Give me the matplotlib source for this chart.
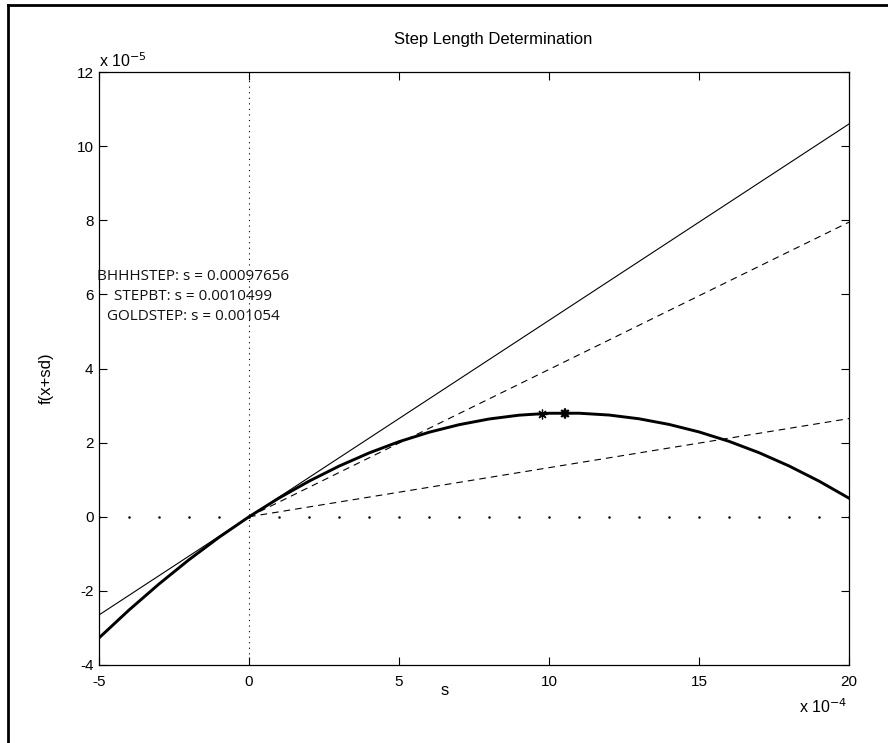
import numpy as np
import matplotlib
matplotlib.use("Agg")
import matplotlib.pyplot as plt
from matplotlib.lines import Line2D
from matplotlib.ticker import FuncFormatter, MultipleLocator

plt.rcParams['font.family'] = ['Liberation Sans', 'DejaVu Sans']

# step length s (units of 1e-4) and objective f(x+sd) (units of 1e-5)
s_grid = [-5, -4, -3, -2, -1, 0, 1, 2, 3, 4, 5, 6, 7, 8, 9, 10,
          11, 12, 13, 14, 15, 16, 17, 18, 19, 20]
f_vals = [-3.270, -2.517, -1.814, -1.159, -0.555, 0.0, 0.505, 0.960,
          1.366, 1.721, 2.026, 2.280, 2.484, 2.638, 2.741, 2.793,
          2.794, 2.745, 2.644, 2.492, 2.289, 2.035, 1.729, 1.371,
          0.962, 0.501]

# tangent line at s = 0 and the two slope-bound lines
tangent_s = [-5, 20]
tangent_f = [-2.65, 10.60]
upper_s = [0, 20]
upper_f = [0.0, 7.95]
lower_s = [0, 20]
lower_f = [0.0, 2.65]

# step lengths chosen by each method
methods = ['BHHHSTEP', 'STEPBT', 'GOLDSTEP']
step_s = [0.00097656, 0.0010499, 0.001054]
step_f = [2.785, 2.800, 2.800]

xscale, yscale = 1e-4, 1e-5

fig = plt.figure(figsize=(8.88, 7.43), dpi=100)
ax = fig.add_axes([0.1115, 0.105, 0.8446, 0.798])

xs = np.array(s_grid) * xscale
ax.plot(xs, np.array(f_vals) * yscale, color='black', lw=2.1, zorder=4)
ax.plot(np.array(tangent_s) * xscale, np.array(tangent_f) * yscale,
        color='black', lw=0.8)
for ls_, lf_ in [(upper_s, upper_f), (lower_s, lower_f)]:
    ax.plot(np.array(ls_) * xscale, np.array(lf_) * yscale, color='black',
            lw=0.8, dashes=(6, 4.5))

# reference axes through the origin
ax.plot([0, 0], [-4 * yscale, 12 * yscale], color='black', lw=0.8,
        linestyle=(0, (1, 4)))
ax.plot(xs, np.zeros_like(xs), linestyle='none', marker='.',
        markersize=1.6, color='black')

for sv, fv in zip(step_s, step_f):
    ax.plot([sv], [fv * yscale], linestyle='none', marker=(8, 2, 0),
            markersize=7, color='black', mew=0.9, zorder=5)

label = "\n".join(f"{m}: s = {v:g}" for m, v in zip(methods, step_s))
ax.text(-1.87 * xscale, 5.94 * yscale, label, ha='center', va='center',
        fontsize=11, family=['Open Sans', 'DejaVu Sans'],
        linespacing=1.45, color='#111111')

ax.set_xlim(-5 * xscale, 20 * xscale)
ax.set_ylim(-4 * yscale, 12 * yscale)
ax.xaxis.set_major_locator(MultipleLocator(5 * xscale))
ax.yaxis.set_major_locator(MultipleLocator(2 * yscale))
ax.xaxis.set_major_formatter(FuncFormatter(lambda v, p: f"{round(v / xscale):d}"))
ax.yaxis.set_major_formatter(FuncFormatter(lambda v, p: f"{round(v / yscale):d}"))
ax.tick_params(direction='in', length=6, width=0.8, labelsize=11,
               top=True, right=True)
ax.tick_params(axis='x', pad=7)
ax.tick_params(axis='y', pad=4)
for sp in ax.spines.values():
    sp.set_linewidth(0.9)

ax.set_title("Step Length Determination", fontsize=12, pad=20, x=0.525)
ax.set_xlabel("s", fontsize=12)
ax.set_ylabel("f(x+sd)", fontsize=12)
ax.xaxis.set_label_coords(0.461, -0.031, transform=ax.transAxes)
ax.yaxis.set_label_coords(-0.060, 0.484, transform=ax.transAxes)
ax.xaxis.label.set_va('top')

fig.text(0.1115, 0.906, r"x 10$^{-5}$", fontsize=11.5, ha='left', va='bottom')
fig.text(0.954, 0.037, r"x 10$^{-4}$", fontsize=11.5, ha='right', va='bottom')

# partial frame around the figure
fig.add_artist(Line2D([0.009, 0.009], [0.0, 0.993], color='black', lw=2,
                      transform=fig.transFigure))
fig.add_artist(Line2D([0.009, 1.0], [0.993, 0.993], color='black', lw=2,
                      transform=fig.transFigure))

fig.savefig("out.png", dpi=100)
